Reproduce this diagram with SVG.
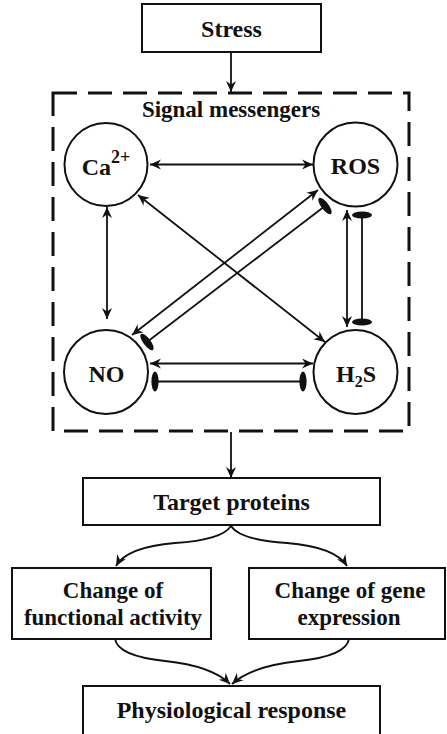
<svg xmlns="http://www.w3.org/2000/svg" width="447" height="734" viewBox="0 0 447 734">
  <style>
    .box { fill: #fff; stroke: #111; stroke-width: 2; }
    .node { fill: #fff; stroke: #111; stroke-width: 2; }
    .label { font-family: "Liberation Serif", "Times New Roman", serif; font-weight: bold; font-size: 24px; fill: #111; text-anchor: middle; }
    .small { font-size: 23px; }
    .edge { fill: none; stroke: #111; stroke-width: 1.8; }
    .arrow { marker-end: url(#head); }
    .both { marker-start: url(#head); marker-end: url(#head); }
    .inhib { marker-start: url(#bar); marker-end: url(#bar); }
  </style>
  <defs>
    <!-- swept arrowhead, tip at the path end -->
    <marker id="head" markerUnits="userSpaceOnUse" viewBox="-12 -6 13 12" refX="0" refY="0" markerWidth="13" markerHeight="12" orient="auto-start-reverse">
      <path d="M-11,-5 L0,0 L-11,5 L-7.5,0 Z" fill="#111"/>
    </marker>
    <!-- blunt inhibition end: filled ellipse across the line -->
    <marker id="bar" markerUnits="userSpaceOnUse" viewBox="-6 -12 12 24" refX="0" refY="0" markerWidth="12" markerHeight="24" orient="auto">
      <ellipse cx="0" cy="0" rx="3.6" ry="10" fill="#111"/>
    </marker>
  </defs>

  <!-- signal messengers frame -->
  <rect x="53" y="93" width="356" height="338" fill="none" stroke="#111" stroke-width="3" stroke-dasharray="24 11"/>

  <g id="connectors">
    <line class="edge arrow" x1="231" y1="53" x2="231" y2="92"/>
    <line class="edge both" x1="150" y1="164.5" x2="313" y2="164.5"/>
    <line class="edge both" x1="107" y1="207" x2="107" y2="319"/>
    <line class="edge both" x1="347" y1="210" x2="347" y2="327"/>
    <line class="edge both" x1="150" y1="363.5" x2="313" y2="363.5"/>
    <line class="edge both" x1="138" y1="195" x2="325" y2="342"/>
    <line class="edge both" x1="132" y1="335" x2="318" y2="190"/>
    <line class="edge inhib" x1="362" y1="215" x2="362" y2="322"/>
    <line class="edge inhib" x1="155" y1="381.5" x2="303" y2="381.5"/>
    <line class="edge inhib" x1="147" y1="342" x2="325" y2="206"/>
    <line class="edge arrow" x1="231" y1="432" x2="231" y2="478"/>
    <path class="edge arrow" d="M231,526 Q222,540 175,543 Q127,547 116,566"/>
    <path class="edge arrow" d="M231,526 Q240,540 287,543 Q335,547 347,566"/>
    <path class="edge arrow" d="M115,639 Q118,656 165,661 Q212,666 230,684"/>
    <path class="edge arrow" d="M349,639 Q346,656 299,661 Q252,666 232,684"/>
  </g>

  <g id="stress">
    <rect class="box" x="142" y="4" width="179" height="48"/>
    <text class="label" x="231.5" y="37">Stress</text>
  </g>

  <g id="signal-messengers">
    <text class="label small" x="231" y="117">Signal messengers</text>
  </g>

  <g id="ca">
    <circle class="node" cx="106" cy="164.5" r="41.5"/>
    <text class="label" x="106" y="175">Ca<tspan font-size="18" dy="-12">2+</tspan></text>
  </g>

  <g id="ros">
    <circle class="node" cx="355.5" cy="164.5" r="42"/>
    <text class="label" x="355.5" y="174">ROS</text>
  </g>

  <g id="no">
    <circle class="node" cx="106" cy="372" r="42"/>
    <text class="label" x="106.5" y="382">NO</text>
  </g>

  <g id="h2s">
    <circle class="node" cx="355.5" cy="372" r="42"/>
    <text class="label" x="356" y="382">H<tspan font-size="16" dy="5">2</tspan><tspan dy="-5">S</tspan></text>
  </g>

  <g id="target-proteins">
    <rect class="box" x="83" y="478" width="297" height="47"/>
    <text class="label" x="231.5" y="510">Target proteins</text>
  </g>

  <g id="functional-activity">
    <rect class="box" x="12" y="568" width="199" height="71"/>
    <text class="label small" x="113" y="598">Change of</text>
    <text class="label small" x="113" y="625">functional activity</text>
  </g>

  <g id="gene-expression">
    <rect class="box" x="249" y="568" width="196" height="71"/>
    <text class="label small" x="350" y="598">Change of gene</text>
    <text class="label small" x="349" y="625">expression</text>
  </g>

  <g id="physiological-response">
    <rect class="box" x="83" y="686" width="297" height="50"/>
    <text class="label" x="231.5" y="718">Physiological response</text>
  </g>
</svg>
